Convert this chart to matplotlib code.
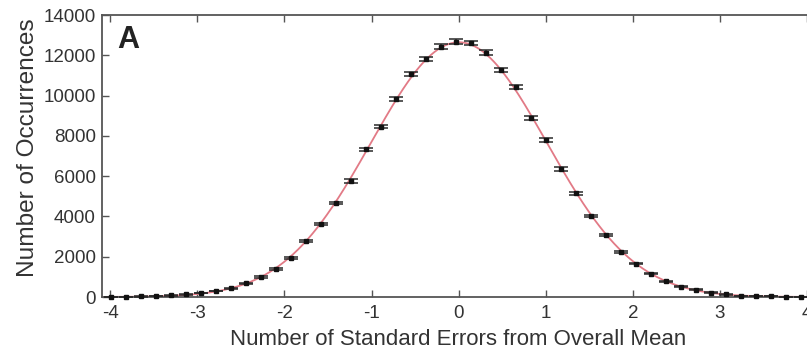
import numpy as np
import matplotlib
matplotlib.use("Agg")
import matplotlib.pyplot as plt

plt.rcParams['font.family'] = ['Liberation Sans', 'DejaVu Sans']
plt.rcParams['axes.unicode_minus'] = False

# Bin centres (standard errors from the overall mean)
bin_centers = [-3.99, -3.82, -3.65, -3.47, -3.30, -3.13, -2.96, -2.78, -2.61, -2.44,
               -2.27, -2.10, -1.92, -1.75, -1.58, -1.41, -1.23, -1.06, -0.89, -0.72,
               -0.55, -0.37, -0.20, -0.03, 0.14, 0.32, 0.49, 0.66, 0.83, 1.00,
               1.18, 1.35, 1.52, 1.69, 1.86, 2.04, 2.21, 2.38, 2.55, 2.73,
               2.90, 3.07, 3.24, 3.41, 3.59, 3.76, 3.93]

# Occurrence counts per bin
counts = [10, 15, 25, 45, 75, 125, 205, 300, 440, 680,
          990, 1400, 1950, 2770, 3610, 4670, 5760, 7330, 8460, 9830,
          11060, 11820, 12430, 12680, 12600, 12130, 11270, 10410, 8870, 7790,
          6355, 5150, 4020, 3090, 2250, 1660, 1160, 780, 510, 365,
          215, 125, 65, 40, 30, 15, 10]

# Standard error of each count
count_err = [3, 4, 5, 7, 9, 11, 14, 17, 21, 26,
             31, 37, 44, 53, 60, 68, 76, 86, 92, 99,
             105, 109, 112, 113, 112, 110, 106, 102, 94, 88,
             80, 72, 63, 56, 47, 41, 34, 28, 23, 19,
             15, 11, 8, 6, 5, 4, 3]

x_ticks = [-4, -3, -2, -1, 0, 1, 2, 3, 4]
y_ticks = [0, 2000, 4000, 6000, 8000, 10000, 12000, 14000]

x = np.array(bin_centers)
y = np.array(counts)

# Gaussian fitted by moments of the histogram
width = np.mean(np.diff(x))
mu = np.sum(x * y) / np.sum(y)
sigma = np.sqrt(np.sum(y * (x - mu) ** 2) / np.sum(y))
amp = np.sum(y) * width / (sigma * np.sqrt(2 * np.pi))
xf = np.linspace(-4.1, 4.1, 600)
yf = amp * np.exp(-0.5 * ((xf - mu) / sigma) ** 2)

fig = plt.figure(figsize=(8.07, 3.5), dpi=100)
ax = fig.add_axes([101.5 / 807, 53 / 350, 714.2 / 807, 282 / 350])

text_color = '#333333'
spine_color = '#555555'

ax.plot(xf, yf, color='#e27a86', lw=1.3, zorder=2)
ax.errorbar(x, y, yerr=count_err, fmt='s', ms=2.8, color='#111111',
            ecolor='#2a2a2a', elinewidth=1.1, capsize=5, capthick=1.1,
            zorder=3, clip_on=False)

ax.set_xlim(-4.1, 4.1)
ax.set_ylim(0, 14000)
ax.set_xticks(x_ticks)
ax.set_yticks(y_ticks)
ax.tick_params(direction='in', length=5, width=1.0, color=spine_color,
               labelsize=13.5, labelcolor=text_color, top=True, right=True,
               pad=4)
ax.tick_params(axis='x', pad=5.5)
for s in ax.spines.values():
    s.set_color(spine_color)
    s.set_linewidth(1.3)

ax.set_xlabel('Number of Standard Errors from Overall Mean', fontsize=16,
              color=text_color, labelpad=5)
ax.set_ylabel('Number of Occurrences', fontsize=17.6, color=text_color)
ax.yaxis.set_label_coords(-0.087, 0.53)

ax.text(0.022, 0.965, 'A', transform=ax.transAxes, fontsize=22,
        fontweight='bold', color='#222222', va='top', ha='left')

fig.savefig('out.png', dpi=100)
